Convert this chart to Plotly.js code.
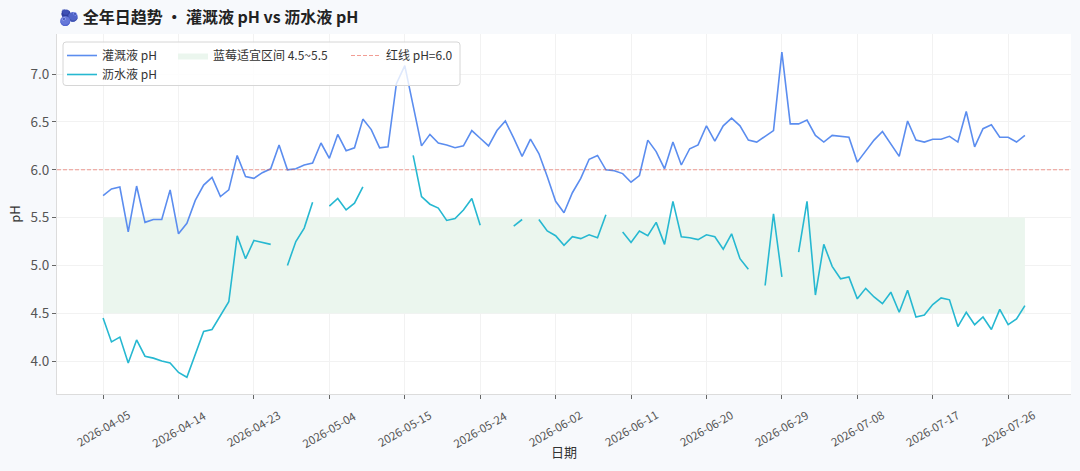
<!DOCTYPE html>
<html>
<head>
<meta charset="utf-8">
<script src="https://cdn.plot.ly/plotly-3.0.1.min.js"></script>
<style>
html,body{margin:0;padding:0;background:#f7f9fc;}
#chart{width:1080px;height:471px;}
</style>
</head>
<body>
<div id="chart"></div>
<script>
// ---- data ----
const dates = [
"2026-04-05","2026-04-06","2026-04-07","2026-04-08","2026-04-09","2026-04-10","2026-04-11","2026-04-12","2026-04-13","2026-04-14",
"2026-04-15","2026-04-16","2026-04-17","2026-04-18","2026-04-19","2026-04-20","2026-04-21","2026-04-22","2026-04-23","2026-04-24",
"2026-04-25","2026-04-26","2026-04-27","2026-04-28","2026-04-29","2026-04-30","2026-05-03","2026-05-04","2026-05-05","2026-05-06",
"2026-05-07","2026-05-08","2026-05-11","2026-05-12","2026-05-13","2026-05-14","2026-05-15","2026-05-16","2026-05-17","2026-05-18",
"2026-05-19","2026-05-20","2026-05-21","2026-05-22","2026-05-23","2026-05-24","2026-05-25","2026-05-26","2026-05-27","2026-05-28",
"2026-05-29","2026-05-30","2026-05-31","2026-06-01","2026-06-02","2026-06-03","2026-06-04","2026-06-05","2026-06-06","2026-06-07",
"2026-06-08","2026-06-09","2026-06-10","2026-06-11","2026-06-12","2026-06-13","2026-06-14","2026-06-15","2026-06-16","2026-06-17",
"2026-06-18","2026-06-19","2026-06-20","2026-06-21","2026-06-22","2026-06-23","2026-06-24","2026-06-25","2026-06-26","2026-06-27",
"2026-06-28","2026-06-29","2026-06-30","2026-07-01","2026-07-02","2026-07-03","2026-07-04","2026-07-05","2026-07-06","2026-07-07",
"2026-07-08","2026-07-09","2026-07-10","2026-07-11","2026-07-12","2026-07-13","2026-07-14","2026-07-15","2026-07-16","2026-07-17",
"2026-07-18","2026-07-19","2026-07-20","2026-07-21","2026-07-22","2026-07-23","2026-07-24","2026-07-25","2026-07-26","2026-07-27",
"2026-07-28"];

const irrigationPH = [
5.73,5.80,5.82,5.35,5.83,5.45,5.48,5.48,5.79,5.33,
5.44,5.68,5.84,5.92,5.72,5.79,6.15,5.93,5.91,5.97,
6.01,6.26,6.00,6.01,6.05,6.07,6.28,6.12,6.37,6.20,
6.23,6.53,6.42,6.23,6.24,6.90,7.09,6.66,6.25,6.37,
6.28,6.26,6.23,6.25,6.41,6.33,6.25,6.41,6.51,6.33,
6.14,6.32,6.17,5.93,5.67,5.55,5.76,5.91,6.11,6.15,
6.00,5.99,5.96,5.87,5.94,6.31,6.19,6.01,6.29,6.05,
6.22,6.26,6.46,6.30,6.46,6.54,6.46,6.31,6.29,6.35,
6.41,7.23,6.48,6.48,6.52,6.36,6.29,6.36,6.35,6.34,
6.08,6.20,6.31,6.40,6.27,6.14,6.51,6.31,6.29,6.32,
6.32,6.35,6.29,6.61,6.24,6.43,6.47,6.34,6.34,6.29,
6.36];

const leachatePH = [
4.45,4.20,4.25,3.98,4.22,4.05,4.03,4.00,3.98,3.88,
3.83,4.06,4.31,4.33,4.47,4.62,5.31,5.07,5.26,5.24,
5.22,null,5.00,5.25,5.39,5.66,null,5.62,5.70,5.58,
5.65,5.82,null,null,null,null,null,6.15,5.72,5.64,
5.60,5.47,5.49,5.58,5.70,5.42,null,null,null,5.41,
5.48,null,5.48,5.36,5.31,5.21,5.30,5.28,5.32,5.29,
5.53,null,5.35,5.24,5.36,5.31,5.45,5.22,5.67,5.30,
5.29,5.27,5.32,5.30,5.17,5.33,5.07,4.96,null,4.79,
5.54,4.88,null,5.14,5.67,4.69,5.22,4.99,4.86,4.88,
4.65,4.76,4.67,4.60,4.72,4.51,4.74,4.46,4.48,4.59,
4.66,4.64,4.36,4.51,4.38,4.46,4.33,4.54,4.38,4.44,
4.58];

const tickDates = ["2026-04-05","2026-04-14","2026-04-23","2026-05-04","2026-05-15","2026-05-24",
"2026-06-02","2026-06-11","2026-06-20","2026-06-29","2026-07-08","2026-07-17","2026-07-26"];
const yTicks = [4.0, 4.5, 5.0, 5.5, 6.0, 6.5, 7.0];
const bandRange = [4.5, 5.5];
const redLineValue = 6.0;

// ---- chart ----
const FONT = '"Noto Sans CJK SC", "Noto Sans", sans-serif';
const first = dates[0], last = dates[dates.length - 1];

const traces = [
  {
    name: '蓝莓适宜区间 4.5~5.5', type: 'scatter', mode: 'lines',
    x: [first, last, last, first, first],
    y: [bandRange[0], bandRange[0], bandRange[1], bandRange[1], bandRange[0]],
    fill: 'toself', fillcolor: '#ebf6ee',
    line: {width: 0, color: '#ebf6ee'},
    hoverinfo: 'skip', legend: 'legend2'
  },
  {
    name: '灌溉液 pH', type: 'scatter', mode: 'lines',
    x: dates, y: irrigationPH,
    line: {color: '#5b8def', width: 1.6}, legend: 'legend'
  },
  {
    name: '沥水液 pH', type: 'scatter', mode: 'lines',
    x: dates, y: leachatePH, connectgaps: false,
    line: {color: '#26b8d1', width: 1.6}, legend: 'legend'
  },
  {
    name: '红线 pH=6.0', type: 'scatter', mode: 'lines',
    x: [0, 1], y: [redLineValue, redLineValue], xaxis: 'x2',
    line: {color: 'rgba(231,76,60,0.55)', width: 1, dash: '4px,2px'},
    legend: 'legend3'
  }
];

// rounded legend frame in paper coords
const pw = 1014, ph = 360;
const bx0 = (63 - 57) / pw, bx1 = (460 - 57) / pw;
const by0 = (394 - 85.5) / ph, by1 = (394 - 42) / ph;
const rx = 3 / pw, ry = 3 / ph;
const framePath = `M ${bx0 + rx} ${by1} L ${bx1 - rx} ${by1} Q ${bx1} ${by1} ${bx1} ${by1 - ry} L ${bx1} ${by0 + ry} Q ${bx1} ${by0} ${bx1 - rx} ${by0} L ${bx0 + rx} ${by0} Q ${bx0} ${by0} ${bx0} ${by0 + ry} L ${bx0} ${by1 - ry} Q ${bx0} ${by1} ${bx0 + rx} ${by1} Z`;

const tickAnnotations = tickDates.map(d => ({
  x: d, xref: 'x', y: 0, yref: 'paper', yshift: -10,
  text: d, textangle: -30, showarrow: false,
  xanchor: 'center', yanchor: 'top',
  font: {family: FONT, size: 11.5, color: '#555'}
}));

const legendCommon = {
  orientation: 'v', xanchor: 'left', yanchor: 'top',
  bgcolor: 'rgba(0,0,0,0)', borderwidth: 0,
  font: {family: FONT, size: 12, color: '#333'}
};
const legendY = (394 - 41) / ph;

const layout = {
  width: 1080, height: 471,
  paper_bgcolor: '#f7f9fc', plot_bgcolor: '#ffffff',
  margin: {l: 57, r: 9, t: 34, b: 77, pad: 0},
  font: {family: FONT, color: '#333'},
  title: {
    text: '<b>🫐 全年日趋势 • 灌溉液 pH vs 沥水液 pH</b>',
    x: 59 / 1080, xref: 'container', xanchor: 'left',
    y: 1 - 17.5 / 471, yref: 'container', yanchor: 'middle',
    font: {family: FONT, size: 16, color: '#222'}
  },
  xaxis: {
    type: 'category', categoryorder: 'array', categoryarray: dates,
    range: [-5.5, 115.5],
    tickmode: 'array', tickvals: tickDates, showticklabels: false,
    ticks: 'outside', ticklen: 4, tickcolor: '#666', tickwidth: 1,
    showgrid: true, gridcolor: '#f2f2f2', gridwidth: 1,
    showline: true, linecolor: '#dcdcdc', linewidth: 1,
    zeroline: false,
    title: {text: '日期', standoff: 49, font: {family: FONT, size: 13, color: '#333'}},
    automargin: false
  },
  xaxis2: {overlaying: 'x', range: [0, 1], visible: false, fixedrange: true},
  yaxis: {
    range: [3.655, 7.42],
    tickmode: 'array', tickvals: yTicks, ticktext: yTicks.map(v => v.toFixed(1)),
    ticks: 'outside', ticklen: 4, tickcolor: '#666',
    tickfont: {family: FONT, size: 13.5, color: '#555'},
    showgrid: true, gridcolor: '#f2f2f2', gridwidth: 1,
    showline: true, linecolor: '#dcdcdc', linewidth: 1,
    zeroline: false,
    title: {text: 'pH', standoff: 6, font: {family: FONT, size: 13, color: '#333'}},
    automargin: false
  },
  showlegend: true,
  legend: Object.assign({}, legendCommon, {x: (62 - 57) / pw, y: legendY, tracegroupgap: 0}),
  legend2: Object.assign({}, legendCommon, {x: (173 - 57) / pw, y: legendY}),
  legend3: Object.assign({}, legendCommon, {x: (346 - 57) / pw, y: legendY}),
  shapes: [{
    type: 'path', xref: 'paper', yref: 'paper', path: framePath,
    fillcolor: 'rgba(255,255,255,0.8)', line: {color: '#d6d6d6', width: 1},
    layer: 'above'
  }],
  annotations: tickAnnotations
};

Plotly.newPlot('chart', traces, layout, {displayModeBar: false, staticPlot: true});
</script>
</body>
</html>
